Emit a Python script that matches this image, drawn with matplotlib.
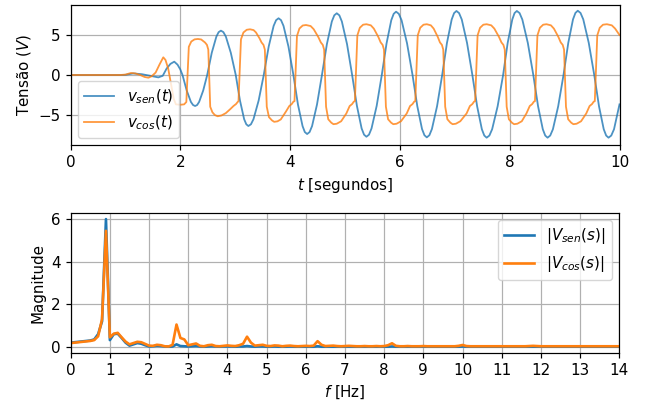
import numpy as np
import matplotlib
matplotlib.use('Agg')
import matplotlib.pyplot as plt

S = 1.09
plt.rcParams.update({
    'font.size': 10 * S,
    'axes.linewidth': 0.8 * S,
    'grid.linewidth': 0.8 * S,
    'xtick.major.size': 3.5 * S,
    'ytick.major.size': 3.5 * S,
    'xtick.major.width': 0.8 * S,
    'ytick.major.width': 0.8 * S,
    'legend.fontsize': 10 * S,
})

# ---------------- time-domain data ----------------
t_sen = [0, 0.9, 1.0, 1.14, 1.3, 1.45, 1.6, 1.68, 1.75, 1.82, 1.89, 1.95, 2.0, 2.04,
         2.117, 2.193, 2.232, 2.27, 2.307, 2.343, 2.417,
         2.49, 2.573, 2.657, 2.698, 2.74, 2.785, 2.83, 2.92,
         3.01, 3.087, 3.163, 3.202, 3.24, 3.287, 3.333, 3.427,
         3.52, 3.61, 3.70, 3.745, 3.79, 3.835, 3.88, 3.97,
         4.06, 4.143, 4.227, 4.268, 4.31, 4.355, 4.40, 4.49,
         4.58, 4.67, 4.76, 4.805, 4.85, 4.897, 4.943, 5.037,
         5.13, 5.217, 5.303, 5.347, 5.39, 5.437, 5.483, 5.577,
         5.67, 5.757, 5.843, 5.887, 5.93, 5.98, 6.03, 6.13,
         6.23, 6.317, 6.403, 6.447, 6.49, 6.537, 6.583, 6.677,
         6.77, 6.857, 6.943, 6.987, 7.03, 7.078, 7.127, 7.223,
         7.32, 7.407, 7.493, 7.537, 7.58, 7.63, 7.68, 7.78,
         7.88, 7.963, 8.047, 8.088, 8.13, 8.18, 8.23, 8.33,
         8.43, 8.517, 8.603, 8.647, 8.69, 8.738, 8.787, 8.883,
         8.98, 9.067, 9.153, 9.197, 9.24, 9.29, 9.34, 9.44,
         9.54, 9.627, 9.713, 9.757, 9.80, 9.85, 9.90, 10.0]
v_sen = [0, 0, 0.02, 0.2, 0.1, -0.1, -0.3, -0.1, 0.8, 1.4, 1.68, 1.3, 0.7, 0.0,
         -1.96, -3.39, -3.78, -3.91, -3.78, -3.39, -1.96,
         0, 2.80, 4.84, 5.40, 5.59, 5.40, 4.84, 2.80,
         0, -3.22, -5.57, -6.21, -6.43, -6.21, -5.57, -3.22,
         0, 3.58, 6.19, 6.91, 7.15, 6.91, 6.19, 3.58,
         0, -3.72, -6.44, -7.19, -7.44, -7.19, -6.44, -3.72,
         0, 3.89, 6.74, 7.52, 7.78, 7.52, 6.74, 3.89,
         0, -3.89, -6.74, -7.52, -7.78, -7.52, -6.74, -3.89,
         0, 3.99, 6.91, 7.71, 7.98, 7.71, 6.91, 3.99,
         0, -3.93, -6.81, -7.59, -7.86, -7.59, -6.81, -3.93,
         0, 4.04, 6.99, 7.80, 8.07, 7.80, 6.99, 4.04,
         0, -3.95, -6.84, -7.63, -7.90, -7.63, -6.84, -3.95,
         0, 4.04, 6.99, 7.80, 8.07, 7.80, 6.99, 4.04,
         0, -3.95, -6.84, -7.63, -7.90, -7.63, -6.84, -3.95,
         0, 4.05, 7.01, 7.82, 8.10, 7.82, 7.01, 4.05,
         0, -3.95, -6.84, -7.63, -7.90, -7.63, -6.84, -3.70]

t_cos = [0, 0.9, 1.0, 1.1, 1.18, 1.27, 1.35, 1.42, 1.48, 1.55, 1.62, 1.69, 1.73, 1.78, 1.84, 1.88, 1.92, 2.0, 2.07,
         2.11, 2.155, 2.20, 2.26, 2.32, 2.38, 2.45, 2.485, 2.51, 2.545, 2.585, 2.63, 2.68, 2.75, 2.83, 2.91, 2.97, 3.015, 3.045,
         3.06, 3.105, 3.15, 3.21, 3.27, 3.335, 3.379, 3.444, 3.48, 3.515, 3.54, 3.575, 3.615, 3.67, 3.71, 3.77, 3.83, 3.925, 3.985, 4.03, 4.06,
         4.08, 4.125, 4.17, 4.23, 4.29, 4.374, 4.43, 4.514, 4.56, 4.595, 4.62, 4.655, 4.695, 4.75, 4.79, 4.85, 4.93, 5.025, 5.085, 5.13, 5.16,
         5.18, 5.225, 5.27, 5.33, 5.39, 5.471, 5.525, 5.606, 5.65, 5.685, 5.71, 5.745, 5.785, 5.84, 5.88, 5.94, 6.02, 6.125, 6.185, 6.23, 6.26,
         6.28, 6.325, 6.37, 6.43, 6.49, 6.564, 6.615, 6.689, 6.73, 6.765, 6.79, 6.825, 6.865, 6.92, 6.96, 7.02, 7.10, 7.215, 7.275, 7.32, 7.35,
         7.37, 7.415, 7.46, 7.52, 7.58, 7.664, 7.72, 7.804, 7.85, 7.885, 7.91, 7.945, 7.985, 8.04, 8.08, 8.14, 8.22, 8.305, 8.365, 8.41, 8.44,
         8.46, 8.505, 8.55, 8.61, 8.67, 8.751, 8.805, 8.886, 8.93, 8.965, 8.99, 9.025, 9.065, 9.12, 9.16, 9.22, 9.30, 9.395, 9.455, 9.50, 9.53,
         9.55, 9.595, 9.64, 9.70, 9.77, 9.86, 9.92, 10.0]
v_cos = [0, 0, 0.05, 0.25, 0.2, 0.0, -0.25, -0.34, -0.15, 0.3, 1.3, 2.23, 1.9, 0.8, -1.5, -3.0, -3.7, -3.75, -3.7,
         -3.4, 3.55, 4.22, 4.49, 4.54, 4.48, 4.1, 3.8, 3.2, -4.0, -4.7, -5.05, -5.2, -5.1, -4.8, -4.3, -3.9, -3.66, -3.4,
         -3.3, 4.49, 5.36, 5.70, 5.76, 5.66, 5.36, 4.61, 4.1, 3.8, 3.2, -4.0, -5.31, -5.72, -5.9, -5.84, -5.6, -4.6, -3.91, -3.66, -3.36,
         -3.3, 4.91, 5.86, 6.24, 6.3, 6.17, 5.77, 4.78, 4.1, 3.8, 3.2, -4.0, -5.58, -6.01, -6.2, -6.14, -5.83, -4.84, -3.91, -3.66, -3.36,
         -3.3, 4.99, 5.95, 6.34, 6.4, 6.26, 5.85, 4.81, 4.1, 3.8, 3.2, -4.0, -5.58, -6.01, -6.2, -6.14, -5.83, -4.84, -3.91, -3.66, -3.36,
         -3.3, 4.99, 5.95, 6.34, 6.4, 6.26, 5.85, 4.81, 4.1, 3.8, 3.2, -4.0, -5.58, -6.01, -6.2, -6.14, -5.83, -4.84, -3.91, -3.66, -3.36,
         -3.3, 4.99, 5.95, 6.34, 6.4, 6.26, 5.85, 4.81, 4.1, 3.8, 3.2, -4.0, -5.58, -6.01, -6.2, -6.14, -5.83, -4.84, -3.91, -3.66, -3.36,
         -3.3, 4.99, 5.95, 6.34, 6.4, 6.26, 5.85, 4.81, 4.1, 3.8, 3.2, -4.0, -5.58, -6.01, -6.2, -6.14, -5.83, -4.84, -3.91, -3.66, -3.36,
         -3.3, 4.99, 5.95, 6.34, 6.4, 6.26, 5.85, 5.04]

# ---------------- spectrum data (0.1 Hz bins) ----------------
freq = np.round(np.arange(141) * 0.1, 1)
mag_sen = [0.20, 0.22, 0.24, 0.26, 0.28, 0.30, 0.35, 0.60, 1.20, 6.00,
           0.32, 0.60, 0.62, 0.42, 0.20, 0.06, 0.12, 0.18, 0.15, 0.08,
           0.02, 0.03, 0.05, 0.04, 0.02, 0.01, 0.02, 0.12, 0.04, 0.03,
           0.02, 0.03, 0.04, 0.02, 0.01, 0.02, 0.03, 0.02, 0.01, 0.02,
           0.02, 0.02, 0.01, 0.02, 0.02, 0.04, 0.02, 0.01, 0.02, 0.02,
           0.01, 0.01, 0.02, 0.01, 0.01, 0.01, 0.02, 0.01, 0.01, 0.01,
           0.01, 0.01, 0.01, 0.03, 0.01, 0.01, 0.01, 0.01, 0.01, 0.01,
           0.01, 0.01, 0.01, 0.01, 0.01, 0.01, 0.01, 0.01, 0.01, 0.01,
           0.01, 0.01, 0.02, 0.01, 0.01, 0.01, 0.01, 0.01, 0.01, 0.01,
           0.01, 0.01, 0.01, 0.01, 0.01, 0.01, 0.01, 0.01, 0.01, 0.01,
           0.02, 0.01, 0.01, 0.01, 0.01, 0.01, 0.01, 0.01, 0.01, 0.01,
           0.01, 0.01, 0.01, 0.01, 0.01, 0.01, 0.01, 0.01, 0.01, 0.01,
           0.01, 0.01, 0.01, 0.01, 0.01, 0.01, 0.01, 0.01, 0.01, 0.01,
           0.01, 0.01, 0.01, 0.01, 0.01, 0.01, 0.01, 0.01, 0.01, 0.01,
           0.01]
mag_cos = [0.18, 0.20, 0.22, 0.24, 0.26, 0.28, 0.32, 0.50, 1.30, 5.45,
           0.45, 0.62, 0.66, 0.45, 0.25, 0.12, 0.18, 0.24, 0.22, 0.14,
           0.06, 0.05, 0.10, 0.08, 0.03, 0.02, 0.10, 1.05, 0.42, 0.35,
           0.08, 0.12, 0.16, 0.05, 0.03, 0.08, 0.10, 0.04, 0.03, 0.05,
           0.07, 0.05, 0.04, 0.08, 0.15, 0.48, 0.20, 0.06, 0.08, 0.10,
           0.05, 0.04, 0.07, 0.06, 0.03, 0.05, 0.06, 0.04, 0.03, 0.04,
           0.05, 0.04, 0.06, 0.27, 0.10, 0.04, 0.05, 0.06, 0.04, 0.03,
           0.04, 0.05, 0.04, 0.03, 0.03, 0.04, 0.03, 0.03, 0.04, 0.03,
           0.04, 0.08, 0.17, 0.05, 0.03, 0.03, 0.04, 0.03, 0.03, 0.03,
           0.04, 0.03, 0.03, 0.03, 0.03, 0.03, 0.03, 0.03, 0.03, 0.05,
           0.09, 0.04, 0.03, 0.03, 0.03, 0.03, 0.03, 0.03, 0.03, 0.03,
           0.03, 0.03, 0.03, 0.03, 0.03, 0.03, 0.03, 0.04, 0.05, 0.04,
           0.03, 0.03, 0.03, 0.03, 0.03, 0.03, 0.03, 0.03, 0.03, 0.03,
           0.03, 0.03, 0.03, 0.03, 0.03, 0.03, 0.03, 0.03, 0.03, 0.03,
           0.03]

W, H = 651, 407
fig = plt.figure(figsize=(W / 100, H / 100), dpi=100)
ax1 = fig.add_axes([70.5 / W, 1 - 145.3 / H, 549.0 / W, 140.6 / H])
ax2 = fig.add_axes([70.7 / W, 1 - 353.3 / H, 548.6 / W, 140.6 / H])

blue, orange = '#1f77b4', '#ff7f0e'

ax1.plot(t_sen, v_sen, color=blue, lw=1.3, alpha=0.8, label='$v_{sen}(t)$')
ax1.plot(t_cos, v_cos, color=orange, lw=1.3, alpha=0.8, label='$v_{cos}(t)$')
ax1.set_xlim(0, 10)
ax1.set_ylim(-8.86, 8.86)
ax1.set_xticks([0, 2, 4, 6, 8, 10])
ax1.set_yticks([-5, 0, 5])
ax1.grid(True)
ax1.legend(loc='lower left')
ax1.set_xlabel('$t$ [segundos]')
ax1.set_ylabel('Tensão ($V$)')

ax2.plot(freq, mag_sen, color=blue, lw=1.9, label='$|V_{sen}(s)|$')
ax2.plot(freq, mag_cos, color=orange, lw=1.9, label='$|V_{cos}(s)|$')
ax2.set_xlim(0, 14)
ax2.set_ylim(-0.3, 6.3)
ax2.set_xticks(list(range(15)))
ax2.set_yticks([0, 2, 4, 6])
ax2.grid(True)
ax2.legend(loc='upper right')
ax2.set_xlabel('$f$ [Hz]')
ax2.set_ylabel('Magnitude')

fig.savefig('out.png', dpi=100)
